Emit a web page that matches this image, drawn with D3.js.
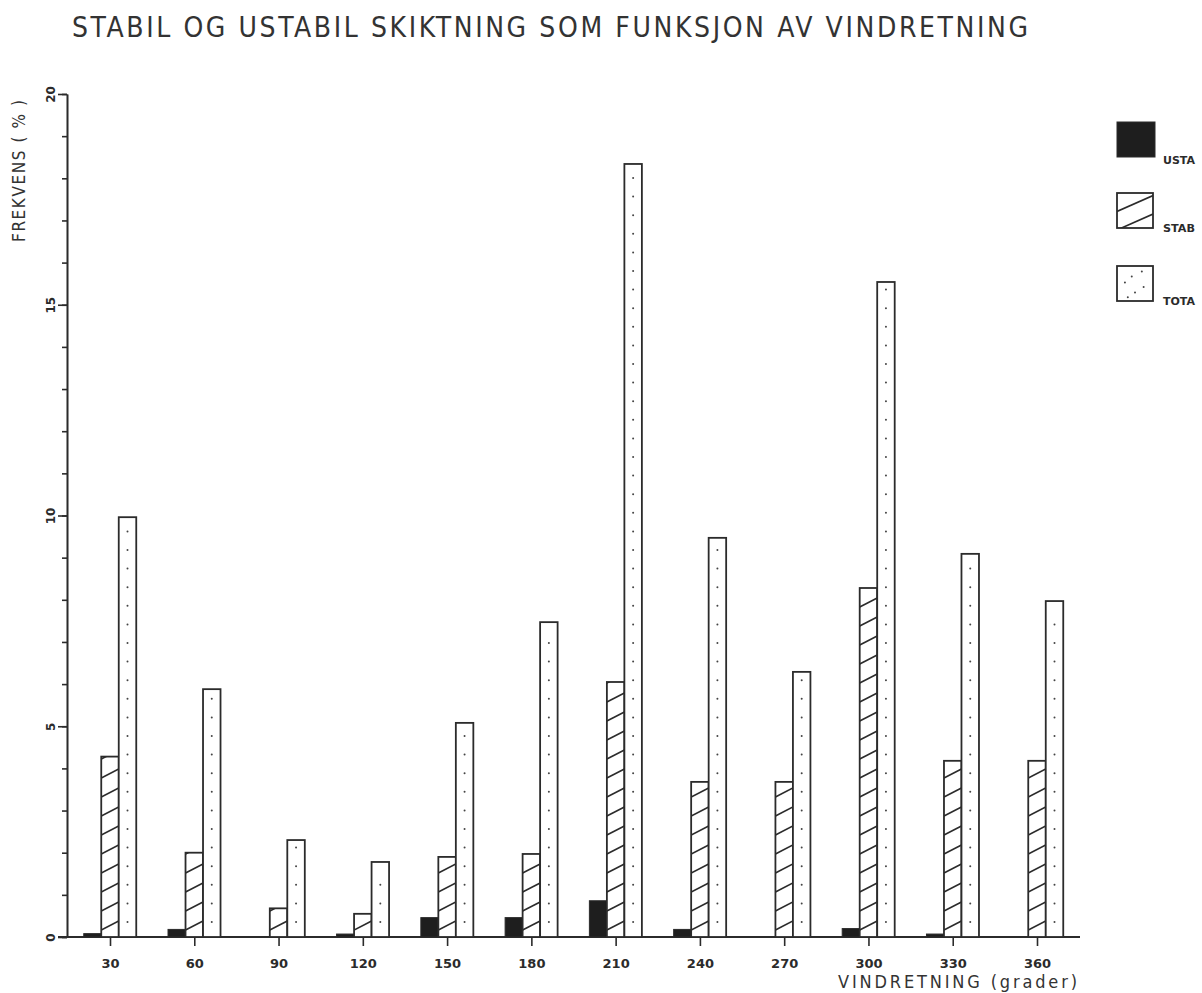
<!DOCTYPE html>
<html>
<head>
<meta charset="utf-8">
<script src="https://cdn.jsdelivr.net/npm/d3@7"></script>
<style>
  html, body { margin: 0; padding: 0; background: #fff; }
  svg { display: block; }
  text { font-family: "DejaVu Sans", sans-serif; fill: #2a2a2a; }
  .plot { font-family: "Liberation Sans Narrow", "DejaVu Sans Condensed", "DejaVu Sans", sans-serif; }
</style>
</head>
<body>
<script>
// ---------- data ----------
const directions = [30, 60, 90, 120, 150, 180, 210, 240, 270, 300, 330, 360];
const usta = [0.08, 0.18, 0, 0.07, 0.46, 0.46, 0.86, 0.18, 0, 0.2, 0.07, 0];
const stab = [4.28, 2.0, 0.68, 0.55, 1.9, 1.97, 6.05, 3.68, 3.68, 8.28, 4.18, 4.18];
const tota = [9.96, 5.88, 2.3, 1.78, 5.08, 7.47, 18.34, 9.47, 6.29, 15.54, 9.09, 7.97];
const yMajorTicks = [0, 5, 10, 15, 20];
const yMinorTicks = d3.range(0, 21);
const seriesNames = ["USTA", "STAB", "TOTA"];
const titleText = "STABIL OG USTABIL SKIKTNING SOM FUNKSJON AV VINDRETNING";
const yTitle = "FREKVENS ( % )";
const xTitle = "VINDRETNING (grader)";

// ---------- layout ----------
const W = 1202, H = 993;
const ink = "#2b2b2b";
const svg = d3.select("body").append("svg").attr("width", W).attr("height", H);
const defs = svg.append("defs");

const x = d3.scaleLinear().domain([30, 360]).range([110, 1037]);
const y = d3.scaleLinear().domain([0, 20]).range([937, 94]);
const barW = 17.5;

// title
svg.append("text")
  .attr("class", "plot")
  .attr("x", 72).attr("y", 37)
  .attr("font-size", 28)
  .attr("textLength", 956).attr("lengthAdjust", "spacing")
  .style("fill", "#333")
  .text(titleText);

// y title
svg.append("text")
  .attr("class", "plot")
  .attr("transform", "translate(25,171) rotate(-90)")
  .attr("text-anchor", "middle")
  .attr("font-size", 17)
  .attr("textLength", 142).attr("lengthAdjust", "spacing")
  .style("fill", "#333")
  .text(yTitle);

// x title
svg.append("text")
  .attr("class", "plot")
  .attr("x", 838).attr("y", 988)
  .attr("font-size", 18)
  .attr("textLength", 239).attr("lengthAdjust", "spacing")
  .style("fill", "#333")
  .text(xTitle);

// ---------- axes ----------
const axisX0 = 67;
const gMinor = svg.append("g").attr("transform", `translate(${axisX0},0)`)
  .call(d3.axisLeft(y).tickValues(yMinorTicks).tickSize(5).tickSizeOuter(0).tickFormat(""));
const gMajor = svg.append("g").attr("transform", `translate(${axisX0},0)`)
  .call(d3.axisLeft(y).tickValues(yMajorTicks).tickSize(9).tickSizeOuter(0).tickFormat(d3.format("d")));
[gMinor, gMajor].forEach(g => {
  g.selectAll("path,line").attr("stroke", ink).attr("stroke-width", 1.6);
});
gMajor.selectAll("text")
  .attr("x", null).attr("dy", null)
  .attr("transform", "translate(-12,0) rotate(-90)")
  .attr("text-anchor", "middle")
  .attr("font-size", 12).attr("font-weight", "bold")
  .style("fill", ink);

// baseline (extends beyond the tick range as in the original plot)
svg.append("line")
  .attr("x1", 58).attr("x2", 1080)
  .attr("y1", y(0)).attr("y2", y(0))
  .attr("stroke", ink).attr("stroke-width", 1.8);

const gx = svg.append("g").attr("transform", `translate(0,${y(0)})`)
  .call(d3.axisBottom(x).tickValues(directions).tickSize(9).tickSizeOuter(0).tickFormat(d3.format("d")));
gx.select(".domain").remove();
gx.selectAll("line").attr("stroke", ink).attr("stroke-width", 1.6);
gx.selectAll("text")
  .attr("y", 31).attr("dy", null)
  .attr("font-size", 13).attr("font-weight", "bold")
  .style("fill", ink);

// ---------- bars ----------
const rows = directions.map((d, i) => ({ dir: d, usta: usta[i], stab: stab[i], tota: tota[i], i }));
const gBars = svg.append("g");

function hatch(g, id, x0, y0, w, h, spacing, rise, offset) {
  defs.append("clipPath").attr("id", id)
    .append("rect").attr("x", x0).attr("y", y0).attr("width", w).attr("height", h);
  const bottom = y0 + h;
  const lines = [];
  for (let k = 0; bottom - offset - k * spacing > y0 - 2; k++) {
    lines.push(bottom - offset - k * spacing);
  }
  lines.push(bottom - offset + spacing);
  g.append("g").attr("clip-path", `url(#${id})`)
    .selectAll("line").data(lines).join("line")
    .attr("x1", x0).attr("x2", x0 + w)
    .attr("y1", d => d).attr("y2", d => d - rise)
    .attr("stroke", ink).attr("stroke-width", 1.6);
}

rows.forEach(r => {
  const cx = x(r.dir);
  // USTA
  if (r.usta > 0) {
    gBars.append("rect")
      .attr("x", cx - 1.5 * barW).attr("y", y(r.usta))
      .attr("width", barW).attr("height", y(0) - y(r.usta))
      .attr("fill", "#1e1e1e").attr("stroke", ink).attr("stroke-width", 1);
  }
  // STAB
  const sx = cx - 0.5 * barW, sy = y(r.stab), sh = y(0) - y(r.stab);
  gBars.append("rect")
    .attr("x", sx).attr("y", sy).attr("width", barW).attr("height", sh)
    .attr("fill", "#fff");
  hatch(gBars, "clipS" + r.i, sx, sy, barW, sh, 19, 9, 7);
  gBars.append("rect")
    .attr("x", sx).attr("y", sy).attr("width", barW).attr("height", sh)
    .attr("fill", "none").attr("stroke", ink).attr("stroke-width", 1.8);
  // TOTA
  const tx = cx + 0.5 * barW, ty = y(r.tota), th = y(0) - y(r.tota);
  gBars.append("rect")
    .attr("x", tx).attr("y", ty).attr("width", barW).attr("height", th)
    .attr("fill", "#fff").attr("stroke", ink).attr("stroke-width", 1.8);
  const dots = [];
  for (let yy = y(0) - 15; yy > ty + 6; yy -= 18.6) dots.push(yy);
  gBars.append("g").selectAll("circle").data(dots).join("circle")
    .attr("cx", tx + barW / 2).attr("cy", d => d).attr("r", 1)
    .attr("fill", "#444");
});

// ---------- legend ----------
const legX = 1117, legW = 36, legH = 35;
const legY = [122, 193, 266];
const gLeg = svg.append("g");
seriesNames.forEach((name, i) => {
  const ly = legY[i];
  if (name === "USTA") {
    gLeg.append("rect").attr("x", legX).attr("y", ly).attr("width", legW + 2).attr("height", legH)
      .attr("fill", "#1e1e1e").attr("stroke", ink).attr("stroke-width", 1);
  } else if (name === "STAB") {
    gLeg.append("rect").attr("x", legX).attr("y", ly).attr("width", legW).attr("height", legH).attr("fill", "#fff");
    hatch(gLeg, "clipLeg", legX, ly, legW, legH, 18.5, 16, 16.5);
    gLeg.append("rect").attr("x", legX).attr("y", ly).attr("width", legW).attr("height", legH)
      .attr("fill", "none").attr("stroke", ink).attr("stroke-width", 1.8);
  } else {
    gLeg.append("rect").attr("x", legX).attr("y", ly).attr("width", legW).attr("height", legH)
      .attr("fill", "#fff").attr("stroke", ink).attr("stroke-width", 1.8);
    const pts = [[0.69, 0.16], [0.41, 0.3], [0.22, 0.47], [0.74, 0.6], [0.5, 0.76], [0.3, 0.89]];
    gLeg.selectAll(null).data(pts).join("circle")
      .attr("cx", d => legX + d[0] * legW).attr("cy", d => ly + d[1] * legH)
      .attr("r", 1).attr("fill", "#444");
  }
  gLeg.append("text")
    .attr("x", 1163).attr("y", ly + legH + (i === 0 ? 7 : 4))
    .attr("font-size", 10).attr("font-weight", "bold")
    .attr("textLength", 32).attr("lengthAdjust", "spacingAndGlyphs")
    .style("fill", ink)
    .text(name);
});
</script>
</body>
</html>
